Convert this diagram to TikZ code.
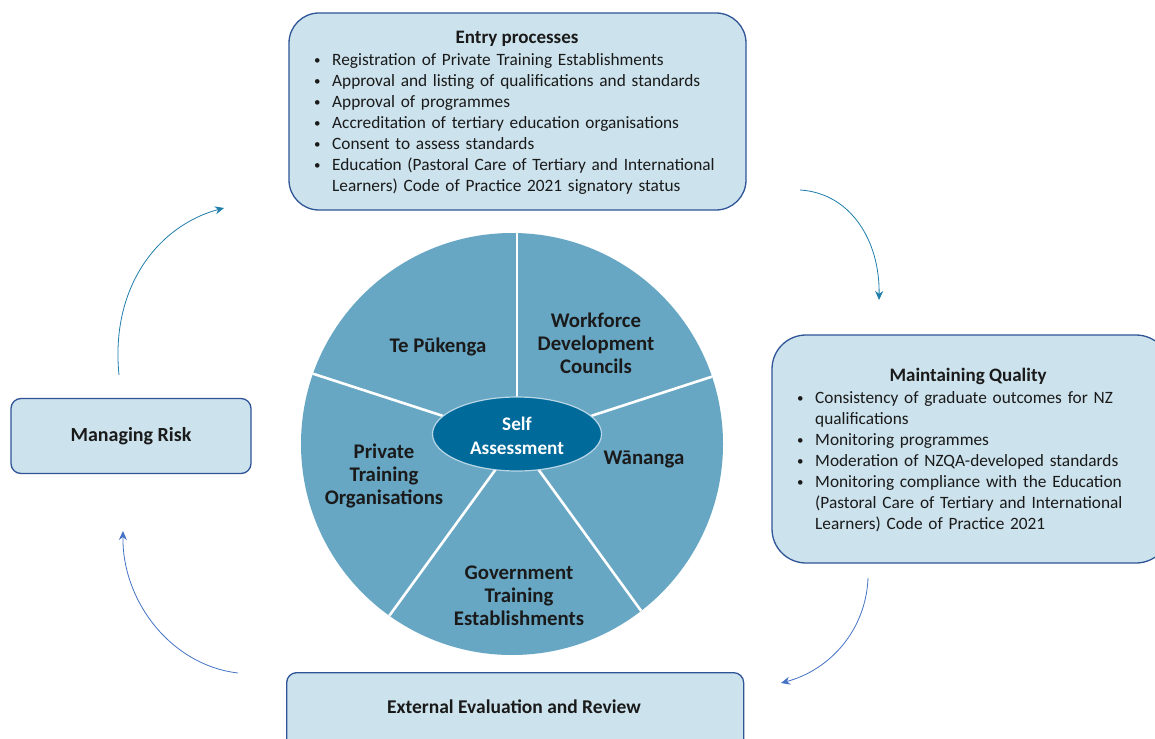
\documentclass[tikz,border=0pt]{standalone}
\usepackage{fontspec}
\setmainfont{Carlito}
\usetikzlibrary{arrows.meta,shapes.geometric}
\definecolor{boxfill}{HTML}{CCE2EC}
\definecolor{boxline}{HTML}{2F5597}
\definecolor{piefill}{HTML}{67A7C4}
\definecolor{coredark}{HTML}{006A9A}
\definecolor{coreline}{HTML}{B8D6E6}
\definecolor{tealarrow}{HTML}{1E7DAA}
\definecolor{bluearrow}{HTML}{4472C4}
\definecolor{ink}{HTML}{1A1A1A}
% bullet item and its continuation lines (explicit breaks)
\newcommand{\smallbullet}{\raisebox{1.2pt}{\scalebox{0.75}{\textbullet}}}
\newcommand{\bitem}[1]{\par\noindent\strut\makebox[20pt][l]{\hspace{2pt}\smallbullet}#1}
\newcommand{\bcont}[1]{\par\noindent\strut\hspace*{20pt}#1}
\tikzset{
  stagebox/.style={draw=boxline, line width=1.3pt, fill=boxfill},
  boxtitle/.style={font=\fontsize{19}{21}\selectfont\bfseries, text=ink, inner sep=0pt},
  bulletlist/.style={font=\fontsize{17.3}{21}\selectfont, text=ink, inner sep=0pt,
    text width=#1, align=left, anchor=north west},
  pielabel/.style={font=\fontsize{20.8}{23}\selectfont\bfseries, text=ink, align=center, inner sep=0pt},
  cyclearrow/.style={line width=0.8pt, -{Stealth[length=9pt,width=8pt]}},
}
\begin{document}
\begin{tikzpicture}[x=1pt,y=-1pt]
\clip (0,0) rectangle (1155,738);
\fill[white] (0,0) rectangle (1155,738);

% ---- stage boxes ----
\draw[stagebox, rounded corners=30pt] (289,13) rectangle (746,210);
\node[boxtitle, anchor=base] (entryT) at (517,43.5) {Entry processes};
\node[bulletlist=440pt] (entryL) at (312,44.8) {%
  \bitem{Registration of Private Training Establishments}
  \bitem{Approval and listing of qualifications and standards}
  \bitem{Approval of programmes}
  \bitem{Accreditation of tertiary education organisations}
  \bitem{Consent to assess standards}
  \bitem{Education (Pastoral Care of Tertiary and International}
  \bcont{Learners) Code of Practice 2021 signatory status}};

\draw[stagebox, rounded corners=34pt] (772,335) rectangle (1170,563);
\node[boxtitle, anchor=base] (qualT) at (968,381.5) {Maintaining Quality};
\node[bulletlist=350pt] (qualL) at (795,382.5) {%
  \bitem{Consistency of graduate outcomes for NZ}
  \bcont{qualifications}
  \bitem{Monitoring programmes}
  \bitem{Moderation of NZQA-developed standards}
  \bitem{Monitoring compliance with the Education}
  \bcont{(Pastoral Care of Tertiary and International}
  \bcont{Learners) Code of Practice 2021}};

\node[stagebox, rounded corners=10pt, minimum width=240pt, minimum height=75pt,
      font=\fontsize{20}{21}\selectfont\bfseries, text=ink] (risk) at (131,436) {Managing Risk};

\node[stagebox, rounded corners=10pt, minimum width=457pt, minimum height=90pt,
      anchor=north west] (eer) at (286,672) {};
\node[boxtitle, font=\fontsize{19.5}{21}\selectfont\bfseries] (eerT) at (514,707) {External Evaluation and Review};

% ---- central pie ----
\coordinate (pc) at (512,444);
\fill[piefill] (pc) circle (211);
\begin{scope}
  \clip (pc) circle (211);
  \foreach \a in {90,18,-54,-126,162}
    \draw[white, line width=2.6pt] (517,440) -- ++(\a:-260);
\end{scope}
\node[draw=coreline, line width=1.2pt, fill=coredark, ellipse, minimum width=169pt, minimum height=74pt, inner sep=0pt] (core) at (517,434) {};
\node[pielabel, text=white, font=\fontsize{19.2}{24}\selectfont\bfseries] (self) at (517,436) {Self\\Assessment};

\node[pielabel] (tp)  at (438,347) {Te Pūkenga};
\node[pielabel] (wdc) at (596,343) {Workforce\\Development\\Councils};
\node[pielabel] (wan) at (644,460) {Wānanga};
\node[pielabel] (pto) at (384,476) {Private\\Training\\Organisations};
\node[pielabel] (gte) at (519,596) {Government\\Training\\Establishments};

% ---- cycle arrows ----
\coordinate (a1s) at (800,190);  \coordinate (a1e) at (879,300);
\coordinate (a2s) at (868,578);  \coordinate (a2e) at (781,683);
\coordinate (a3s) at (238,673);  \coordinate (a3e) at (123,531);
\coordinate (a4s) at (119,375);  \coordinate (a4e) at (224,208);
\draw[cyclearrow, tealarrow] (a1s) .. controls (850,193) and (880,240) .. (a1e);
\draw[cyclearrow, bluearrow] (a2s) .. controls (866,630) and (830,670) .. (a2e);
\draw[cyclearrow, bluearrow] (a3s) .. controls (170,665) and (122,600) .. (a3e);
\draw[cyclearrow, tealarrow] (a4s) .. controls (110,285) and (160,225) .. (a4e);
\end{tikzpicture}
\end{document}
